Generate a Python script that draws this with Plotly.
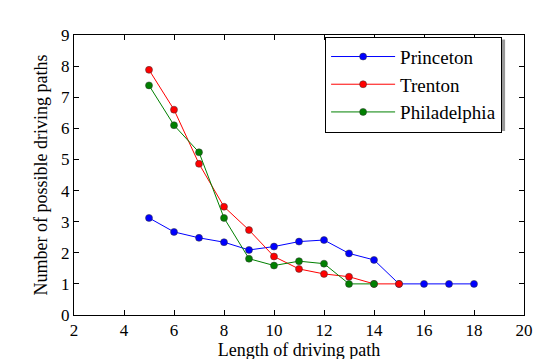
import plotly.graph_objects as go

# --- data --------------------------------------------------------------------
princeton_x = [5, 6, 7, 8, 9, 10, 11, 12, 13, 14, 15, 16, 17, 18]
princeton_y = [3.12, 2.67, 2.48, 2.34, 2.09, 2.20, 2.36, 2.41, 1.98, 1.77, 1, 1, 1, 1]

trenton_x = [5, 6, 7, 8, 9, 10, 11, 12, 13, 14, 15]
trenton_y = [7.88, 6.60, 4.86, 3.48, 2.73, 1.88, 1.48, 1.32, 1.23, 1, 1]

philadelphia_x = [5, 6, 7, 8, 9, 10, 11, 12, 13, 14]
philadelphia_y = [7.38, 6.10, 5.23, 3.12, 1.81, 1.59, 1.73, 1.65, 1, 1]

x_ticks = [2, 4, 6, 8, 10, 12, 14, 16, 18, 20]
y_ticks = [0, 1, 2, 3, 4, 5, 6, 7, 8, 9]

_FONT = '"Liberation Serif", "Times New Roman", Times, serif'
_INK = "#000000"

series = [
    ("Princeton", princeton_x, princeton_y, "#0000ff"),
    ("Trenton", trenton_x, trenton_y, "#ff0000"),
    ("Philadelphia", philadelphia_x, philadelphia_y, "#008000"),
]

fig = go.Figure()
for name, xs, ys, color in series:
    fig.add_trace(
        go.Scatter(
            x=xs,
            y=ys,
            mode="lines+markers",
            name=name,
            line=dict(color=color, width=1),
            marker=dict(color=color, size=7, line=dict(color="#333333", width=0.5)),
            cliponaxis=False,
        )
    )

axis_style = dict(
    showline=True,
    linecolor=_INK,
    linewidth=1,
    mirror="ticks",
    ticks="inside",
    ticklen=5,
    tickcolor=_INK,
    showgrid=False,
    zeroline=False,
    tickfont=dict(family=_FONT, size=17, color=_INK),
)

fig.update_xaxes(
    range=[2, 20],
    tickvals=x_ticks,
    title=dict(text="Length of driving path", font=dict(family=_FONT, size=18, color=_INK), standoff=2),
    **axis_style,
)
fig.update_yaxes(
    range=[0, 9],
    tickvals=y_ticks,
    title=dict(text="Number of possible driving paths", font=dict(family=_FONT, size=18, color=_INK), standoff=8),
    **axis_style,
)

# legend box position (paper coords) and its matplotlib-style drop shadow
leg_x, leg_y = 0.558, 0.994
fig.add_shape(
    type="rect", xref="paper", yref="paper",
    x0=leg_x + 3 / 450, x1=leg_x + 180 / 450,
    y0=leg_y - 99 / 294, y1=leg_y - 3 / 294,
    fillcolor="#999999", line=dict(width=0), layer="above",
)

fig.update_layout(
    width=552,
    height=359,
    paper_bgcolor="#ffffff",
    plot_bgcolor="#ffffff",
    margin=dict(l=66, r=36, t=27, b=38),
    font=dict(family=_FONT, color=_INK),
    legend=dict(
        x=leg_x, y=leg_y, xanchor="left", yanchor="top",
        bgcolor="#ffffff", bordercolor=_INK, borderwidth=1,
        font=dict(family=_FONT, size=19, color=_INK),
        itemwidth=64,
    ),
)

fig.write_html("out.html")
